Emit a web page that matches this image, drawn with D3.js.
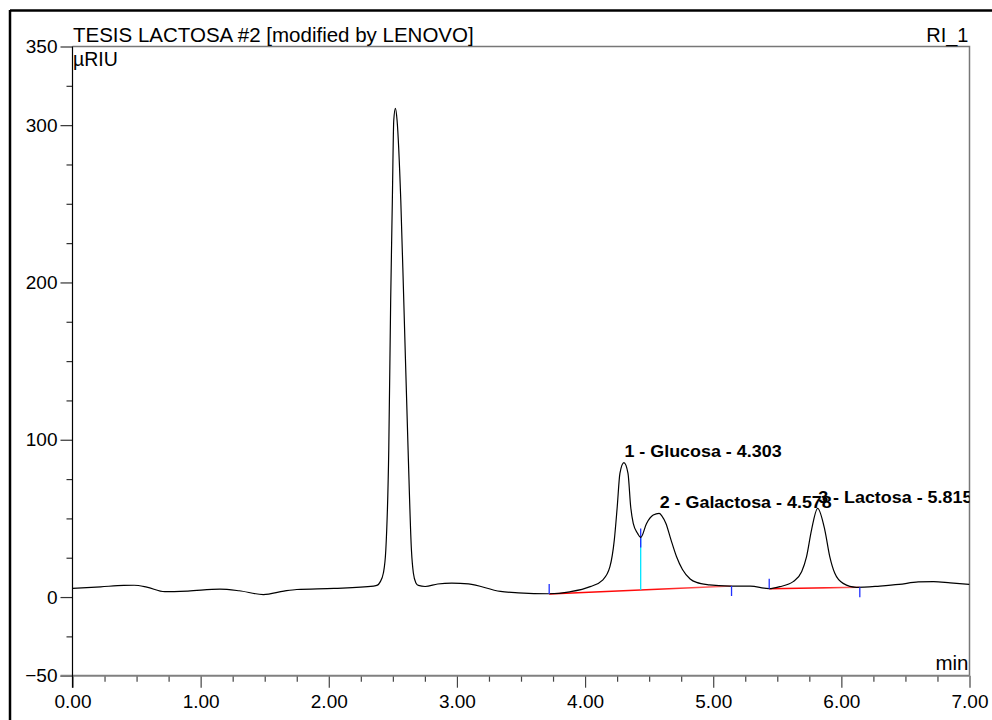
<!DOCTYPE html>
<html>
<head>
<meta charset="utf-8">
<script src="https://cdn.jsdelivr.net/npm/d3@7"></script>
<style>
  body { margin: 0; background: #fff; }
  svg { display: block; }
  text { font-family: "Liberation Sans", Arial, Helvetica, sans-serif; fill: #000; }
</style>
</head>
<body>
<svg id="chart" width="992" height="720"></svg>
<script>
// Chromatogram trace: retention time (min) and detector response (µRIU)
const timeMin = [
  0.00, 0.22, 0.40, 0.48, 0.58, 0.72, 0.90, 1.15, 1.30, 1.49, 1.65, 1.75, 2.04, 2.35, 2.38,
  2.40, 2.426, 2.445, 2.468, 2.483, 2.496, 2.507, 2.520, 2.533, 2.562, 2.585, 2.619, 2.645, 2.660, 2.680,
  2.699, 2.752, 2.85, 2.96, 3.09, 3.34, 3.48, 3.72, 3.88, 4.04, 4.137, 4.194, 4.228, 4.251, 4.272,
  4.303, 4.335, 4.356, 4.376, 4.410, 4.434, 4.48, 4.532, 4.578, 4.60, 4.631, 4.670, 4.714, 4.76, 4.82,
  4.87, 4.97, 5.13, 5.29, 5.437, 5.52, 5.624, 5.69, 5.728, 5.767, 5.815, 5.871, 5.91, 5.949, 6.014,
  6.118, 6.30, 6.45, 6.60, 6.72, 6.85, 7.00
];
const signalURIU = [
  5.5, 6.5, 7.4, 7.5, 6.3, 3.4, 3.8, 5.0, 4.0, 1.6, 3.8, 4.8, 5.5, 7.0, 7.6,
  9.5, 15.3, 29.9, 93.4, 188.8, 251.9, 303.0, 310.7, 303.0, 251.9, 188.8, 93.4, 29.9, 15.3, 9.0,
  7.4, 6.7, 8.3, 8.9, 8.4, 3.6, 2.7, 2.1, 3.3, 6.6, 10.8, 19.3, 36.2, 57.4, 78.6,
  85.4, 78.6, 57.4, 46.8, 40.5, 37.9, 46.8, 52.1, 53.2, 51.5, 46.8, 36.5, 25.6, 17.5, 11.5,
  9.3, 7.8, 7.0, 6.9, 5.3, 6.6, 9.8, 16.1, 25.6, 42.6, 56.4, 42.6, 25.6, 15.1, 8.7,
  6.2, 7.0, 8.0, 9.6, 9.8, 9.0, 8.0
];

// Identified peaks
const peakNumbers = [1, 2, 3];
const peakNames = ["Glucosa", "Galactosa", "Lactosa"];
const peakTimes = [4.303, 4.578, 5.815];

// Integration baselines (start/end time and response)
const baseStartTime = [3.72, 5.437];
const baseStartValue = [1.9, 5.3];
const baseEndTime = [5.143, 6.144];
const baseEndValue = [7.0, 6.2];
// Perpendicular drop between peaks 1 and 2
const dropTimes = [4.434];

// Axis ticks
const yMajorTicks = [-50, 0, 100, 200, 300, 350];
const yMinorTicks = [-25, 25, 50, 75, 125, 150, 175, 225, 250, 275, 325];
const xMajorTicks = [0, 1, 2, 3, 4, 5, 6, 7];
const xMinorTicks = d3.range(0, 7.001, 0.25).filter(v => Math.abs(v - Math.round(v)) > 1e-6);

const titleText = "TESIS LACTOSA #2 [modified by LENOVO]";
const channelText = "RI_1";
const yUnitText = "µRIU";
const xUnitText = "min";

const svg = d3.select("#chart");
const W = 992, H = 720;
const plotL = 72.5, plotR = 969.5, plotT = 46.5, plotB = 675.7;

const x = d3.scaleLinear().domain([0, 7]).range([plotL, plotR]);
const y = d3.scaleLinear().domain([-50, 350]).range([plotB, plotT]);

// Outer frame
svg.append("line").attr("x1", 10).attr("x2", W).attr("y1", 10.5).attr("y2", 10.5)
  .attr("stroke", "#000").attr("stroke-width", 2.5);
svg.append("line").attr("x1", 10).attr("x2", 10).attr("y1", 10).attr("y2", H)
  .attr("stroke", "#000").attr("stroke-width", 2.5);

// Plot frame (top and right)
svg.append("path")
  .attr("d", `M${plotL},${plotT}H${plotR}V${plotB}`)
  .attr("fill", "none").attr("stroke", "#777").attr("stroke-width", 1.5);

const defs = svg.append("defs");
defs.append("clipPath").attr("id", "plotClip")
  .append("rect").attr("x", plotL).attr("y", plotT - 30).attr("width", plotR - plotL).attr("height", plotB - plotT + 30);

// Y axis
const yMajor = svg.append("g").attr("transform", `translate(${plotL},0)`)
  .call(d3.axisLeft(y).tickValues(yMajorTicks).tickSize(12).tickPadding(3).tickFormat(d3.format("d")));
const yMinor = svg.append("g").attr("transform", `translate(${plotL},0)`)
  .call(d3.axisLeft(y).tickValues(yMinorTicks).tickSize(6).tickFormat(""));
[yMajor, yMinor].forEach(g => {
  g.select(".domain").remove();
  g.selectAll(".tick line").attr("stroke", "#333").attr("stroke-width", 1.2);
});
yMajor.selectAll(".tick text").attr("font-size", 19).attr("fill", "#000")
  .style("font-family", '"Liberation Sans", Arial, sans-serif');

// X axis
const xMajor = svg.append("g").attr("transform", `translate(0,${plotB})`)
  .call(d3.axisBottom(x).tickValues(xMajorTicks).tickSize(12).tickPadding(7).tickFormat(d3.format(".2f")));
const xMinor = svg.append("g").attr("transform", `translate(0,${plotB})`)
  .call(d3.axisBottom(x).tickValues(xMinorTicks).tickSize(6).tickFormat(""));
[xMajor, xMinor].forEach(g => {
  g.select(".domain").remove();
  g.selectAll(".tick line").attr("stroke", "#444").attr("stroke-width", 1.2);
});
xMajor.selectAll(".tick text").attr("font-size", 19).attr("fill", "#000")
  .style("font-family", '"Liberation Sans", Arial, sans-serif');

// Axis lines
svg.append("line").attr("x1", plotL - 12).attr("x2", plotR).attr("y1", plotB).attr("y2", plotB)
  .attr("stroke", "#808080").attr("stroke-width", 2);
svg.append("line").attr("x1", plotL).attr("x2", plotL).attr("y1", plotT).attr("y2", plotB + 12)
  .attr("stroke", "#000").attr("stroke-width", 1.2);

// Header texts
svg.append("text").attr("x", plotL + 0.5).attr("y", 42).attr("font-size", 20.5).text(titleText);
svg.append("text").attr("x", plotR - 1).attr("y", 42).attr("text-anchor", "end").attr("font-size", 20).text(channelText);
svg.append("text").attr("x", plotL + 0.5).attr("y", 66).attr("font-size", 19.5).text(yUnitText);
svg.append("text").attr("x", plotR - 1).attr("y", 670).attr("text-anchor", "end").attr("font-size", 20.5).text(xUnitText);

const plot = svg.append("g").attr("clip-path", "url(#plotClip)");

const trace = timeMin.map((t, i) => [t, signalURIU[i]]);
const valueAt = t => {
  const i = d3.bisector(d => d[0]).left(trace, t);
  if (i <= 0) return trace[0][1];
  if (i >= trace.length) return trace[trace.length - 1][1];
  const a = trace[i - 1], b = trace[i];
  return a[1] + (b[1] - a[1]) * (t - a[0]) / (b[0] - a[0]);
};

// Integration baselines with their fading red
baseStartTime.forEach((t0, i) => {
  const gid = "baseGrad" + i;
  const grad = defs.append("linearGradient").attr("id", gid)
    .attr("gradientUnits", "userSpaceOnUse")
    .attr("x1", x(t0)).attr("x2", x(baseEndTime[i])).attr("y1", 0).attr("y2", 0);
  grad.append("stop").attr("offset", 0).attr("stop-color", "#ff0000");
  grad.append("stop").attr("offset", 0.6).attr("stop-color", "#ff1010");
  grad.append("stop").attr("offset", 1).attr("stop-color", "#ff8080");
  plot.append("line")
    .attr("x1", x(t0)).attr("y1", y(baseStartValue[i]))
    .attr("x2", x(baseEndTime[i])).attr("y2", y(baseEndValue[i]))
    .attr("stroke", `url(#${gid})`).attr("stroke-width", 1.4);
});

// Perpendicular drop lines
dropTimes.forEach(t => {
  const k = baseStartTime.findIndex((s, i) => t >= s && t <= baseEndTime[i]);
  const bv = baseStartValue[k] + (baseEndValue[k] - baseStartValue[k]) * (t - baseStartTime[k]) / (baseEndTime[k] - baseStartTime[k]);
  const cv = valueAt(t);
  plot.append("line").attr("x1", x(t)).attr("x2", x(t)).attr("y1", y(bv)).attr("y2", y(cv))
    .attr("stroke", "#00e5ff").attr("stroke-width", 1.3);
  plot.append("line").attr("x1", x(t)).attr("x2", x(t)).attr("y1", y(cv) - 9).attr("y2", y(cv) + 10)
    .attr("stroke", "#2030ff").attr("stroke-width", 1.3);
});

// Chromatogram trace
plot.append("path")
  .datum(trace)
  .attr("fill", "none").attr("stroke", "#000").attr("stroke-width", 1.2)
  .attr("d", d3.line().x(d => x(d[0])).y(d => y(d[1])).curve(d3.curveMonotoneX));

// Peak start/end markers
baseStartTime.forEach((t0, i) => {
  plot.append("line").attr("x1", x(t0)).attr("x2", x(t0))
    .attr("y1", y(baseStartValue[i])).attr("y2", y(baseStartValue[i]) - 10)
    .attr("stroke", "#2030ff").attr("stroke-width", 1.3);
  const t1 = baseEndTime[i];
  plot.append("line").attr("x1", x(t1)).attr("x2", x(t1))
    .attr("y1", y(baseEndValue[i])).attr("y2", y(baseEndValue[i]) + 10)
    .attr("stroke", "#2030ff").attr("stroke-width", 1.3);
});

// Peak labels (the report font runs slightly wide)
peakTimes.forEach((t, i) => {
  plot.append("text")
    .attr("transform", `translate(${x(t) + 0.5},${y(valueAt(t)) - 5.5}) scale(1.12,1)`)
    .attr("font-size", 16).attr("font-weight", "bold")
    .text(`${peakNumbers[i]} - ${peakNames[i]} - ${t.toFixed(3)}`);
});
</script>
</body>
</html>
